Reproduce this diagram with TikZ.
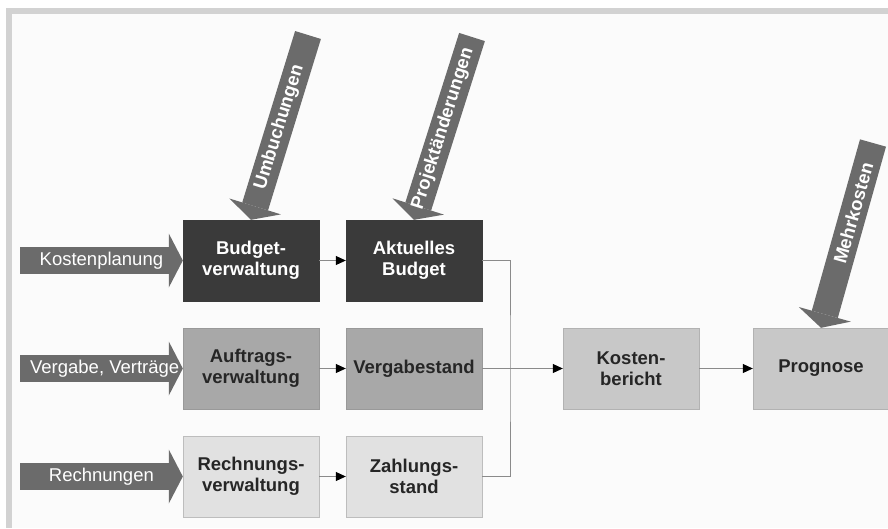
\documentclass[tikz,border=0pt]{standalone}
\usepackage{fontspec}
\setmainfont{Liberation Sans}
\usetikzlibrary{arrows.meta, calc}

\definecolor{framegray}{HTML}{D2D2D2}
\definecolor{panel}{HTML}{FBFBFB}
\definecolor{feedgray}{HTML}{6B6B6B}
\definecolor{boxdark}{HTML}{3A3A3A}
\definecolor{boxmid}{HTML}{A8A8A8}
\definecolor{boxmidline}{HTML}{999999}
\definecolor{boxlight}{HTML}{E1E1E1}
\definecolor{boxlightline}{HTML}{BDBDBD}
\definecolor{boxreport}{HTML}{C8C8C8}
\definecolor{boxreportline}{HTML}{B2B2B2}
\definecolor{textdark}{HTML}{262626}
\definecolor{linegray}{HTML}{8A8A8A}

\tikzset{
  box/.style={rectangle, minimum width=136pt, minimum height=81pt, inner sep=0pt,
    align=center, font=\fontsize{18.5}{21}\selectfont\bfseries},
  budgetbox/.style={box, fill=boxdark, draw=boxdark, text=white},
  orderbox/.style={box, fill=boxmid, draw=boxmidline, text=textdark},
  billbox/.style={box, fill=boxlight, draw=boxlightline, text=textdark},
  reportbox/.style={box, fill=boxreport, draw=boxreportline, text=textdark},
  flow/.style={draw=linegray, line width=0.8pt,
    -{Triangle[length=10pt 0 0, width=9pt 0 0, color=black]}},
  bus/.style={draw=linegray, line width=0.8pt},
  feed/.style={draw=feedgray, line width=27pt,
    -{Triangle[length=14pt 0 0, width=54pt 0 0, line width=0pt 0 0]}},
  feedlabel/.style={text=white, inner sep=0pt, font=\fontsize{18.5}{21}\selectfont},
  slantlabel/.style={feedlabel, font=\fontsize{18.5}{21}\selectfont\bfseries}
}

\begin{document}
\begin{tikzpicture}[line join=miter, x=1pt, y=-1pt]
\useasboundingbox (0,0) rectangle (888,528);

% frame
\fill[white] (0,0) rectangle (888,528);
\fill[framegray] (6,8) rectangle (888,13.5);
\fill[framegray] (6,8) rectangle (12,528);
\fill[panel] (12,13.5) rectangle (888,528);

% boxes
\node[budgetbox] (budget) at (251,260.5) {Budget-\\verwaltung};
\node[budgetbox] (aktuell) at (414,260.5) {Aktuelles\\Budget};
\node[orderbox] (auftrag) at (251,368.5) {Auftrags-\\verwaltung};
\node[orderbox] (vergabe) at (414,368.5) {Vergabestand};
\node[billbox] (rechnung) at (251,476.5) {Rechnungs-\\verwaltung};
\node[billbox] (zahlung) at (414,476.5) {Zahlungs-\\stand};
\node[reportbox] (bericht) at (631,368.5) {Kosten-\\bericht};
\node[reportbox] (prognose) at (821,368.5) {Prognose};

% inputs
\coordinate (kp) at (20,260.5);
\coordinate (vv) at (20,368.5);
\coordinate (rn) at (20,476.5);
\coordinate (ub) at (308,35);
\coordinate (pa) at (472,37);
\coordinate (mk) at (873,143);

\draw[feed] (kp) -- (budget.west) node[feedlabel, pos=0.5] (kptext) {Kostenplanung};
\draw[feed] (vv) -- (auftrag.west) node[feedlabel, pos=0.52] (vvtext) {Vergabe, Verträge};
\draw[feed] (rn) -- (rechnung.west) node[feedlabel, pos=0.5] (rntext) {Rechnungen};
\draw[feed] (ub) -- (budget.north) node[slantlabel, sloped, pos=0.5] (ubtext) {Umbuchungen};
\draw[feed] (pa) -- (aktuell.north) node[slantlabel, sloped, pos=0.5] (patext) {Projektänderungen};
\draw[feed] (mk) -- (prognose.north) node[slantlabel, sloped, pos=0.38] (mktext) {Mehrkosten};

% flows
\draw[flow] (budget) -- (aktuell);
\draw[flow] (auftrag) -- (vergabe);
\draw[flow] (rechnung) -- (zahlung);

\coordinate (join) at (510,368.5);
\draw[bus] (aktuell.east) -| (join) |- (zahlung.east);
\draw[flow] (vergabe) -- (bericht);
\draw[flow] (bericht) -- (prognose);

\end{tikzpicture}
\end{document}
